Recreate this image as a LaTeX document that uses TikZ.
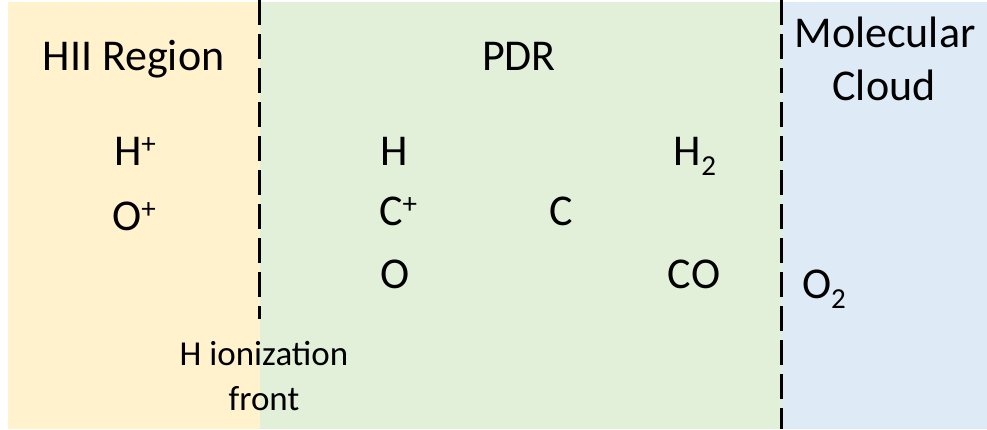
\documentclass[tikz,border=0pt]{standalone}
\usepackage{fontspec}
\setmainfont{Carlito}
\definecolor{hiifill}{HTML}{FFF2CC}
\definecolor{pdrfill}{HTML}{E2F0D9}
\definecolor{mcfill}{HTML}{DEEBF7}
\newcommand{\spsup}[1]{\raisebox{12pt}{\fontsize{29}{30}\selectfont #1}}
\newcommand{\spsub}[1]{\raisebox{-10pt}{\fontsize{29}{30}\selectfont #1}}
\begin{document}
\begin{tikzpicture}[x=1pt,y=-1pt,
  big/.style={font=\fontsize{44}{48}\selectfont, inner sep=0pt, anchor=base},
  small/.style={font=\fontsize{35}{40}\selectfont, inner sep=0pt, anchor=base},
  front/.style={line width=3pt, dash pattern=on 25pt off 9pt}]
\useasboundingbox (0,0) rectangle (987,429);
% regions
\fill[hiifill] (8,2) rectangle (260,429);
\fill[pdrfill] (260,2) rectangle (782,429);
\fill[mcfill] (782,2) rectangle (987,429);
% dashed fronts
\coordinate (ifA) at (259.5,0);
\coordinate (ifB) at (259.5,319);
\coordinate (dfA) at (781.5,0);
\coordinate (dfB) at (781.5,429);
\draw[front] (ifA) -- (ifB);
\draw[front] (dfA) -- (dfB);
% headings
\node[big] (hii) at (133.5,70) {HII Region};
\node[big] (pdr) at (519,70) {PDR};
\node[big] (mol) at (885,47) {Molecular};
\node[big] (cloud) at (884,100) {Cloud};
% species
\node[big] (hplus) at (135,165) {H\spsup{+}};
\node[big] (oplus) at (134,230) {O\spsup{+}};
\node[big] (h) at (394,165) {H};
\node[big] (cplus) at (398,225) {C\spsup{+}};
\node[big] (c) at (561,225) {C};
\node[big] (o) at (395,288) {O};
\node[big] (h2) at (695,165) {H\spsub{2}};
\node[big] (co) at (694,288) {CO};
\node[big] (o2) at (824,298) {O\spsub{2}};
% front label
\node[small] (hion) at (264,365) {H ionization};
\node[small] (hfront) at (264,410) {front};
\end{tikzpicture}
\end{document}
